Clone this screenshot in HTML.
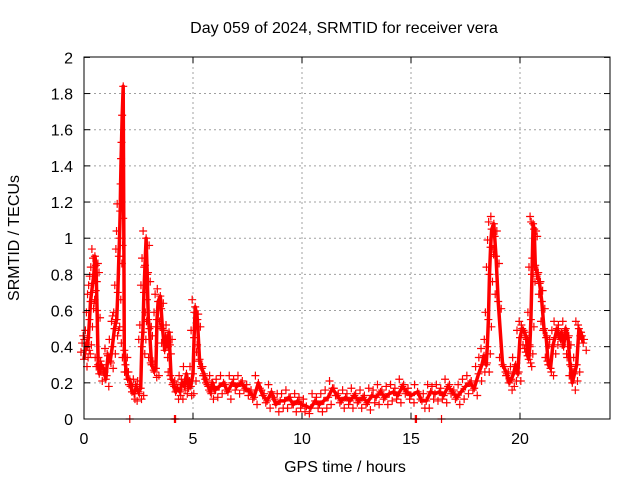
<!DOCTYPE html>
<html><head><meta charset="utf-8"><style>
body{margin:0;background:#fff;}
svg text{font-family:"Liberation Sans",sans-serif;font-size:16px;fill:#000;}
</style></head><body>
<svg id="chart" width="640" height="480">
<rect x="0" y="0" width="640" height="480" fill="#fff"/>
<g id="grid"></g>
<g id="marks"></g>
<rect x="84" y="57" width="526" height="362" fill="none" stroke="#000" stroke-width="1"/>
<g id="ticks"></g>
<text x="344" y="33" text-anchor="middle">Day 059 of 2024, SRMTID for receiver vera</text>
<text x="345" y="472" text-anchor="middle">GPS time / hours</text>
<text transform="translate(19,238) rotate(-90)" text-anchor="middle">SRMTID / TECUs</text>
</svg>
<script>
const xTicks=[0,5,10,15,20];
const yTicks=[0,0.2,0.4,0.6,0.8,1,1.2,1.4,1.6,1.8,2];
const yTickLabels=["0","0.2","0.4","0.6","0.8","1","1.2","1.4","1.6","1.8","2"];
const times=[0.0,0.05,0.1,0.15,0.2,0.25,0.3,0.35,0.4,0.45,0.5,0.55,0.6,0.65,0.7,0.8,0.9,1.0,1.1,1.2,1.3,1.4,1.45,1.5,1.55,1.6,1.63,1.66,1.68,1.7,1.72,1.75,1.8,1.85,1.9,2.0,2.1,2.2,2.3,2.4,2.5,2.6,2.65,2.7,2.75,2.8,2.85,2.9,2.95,3.0,3.1,3.2,3.3,3.35,3.4,3.5,3.6,3.7,3.8,3.85,3.9,4.0,4.1,4.2,4.3,4.4,4.5,4.6,4.7,4.8,4.9,5.0,5.05,5.1,5.2,5.3,5.4,5.5,5.6,5.7,5.8,5.9,6.0,6.2,6.4,6.6,6.8,7.0,7.2,7.4,7.6,7.8,8.0,8.2,8.4,8.6,8.8,9.0,9.2,9.4,9.6,9.8,10.0,10.2,10.4,10.6,10.8,11.0,11.2,11.4,11.6,11.8,12.0,12.2,12.4,12.6,12.8,13.0,13.2,13.4,13.6,13.8,14.0,14.2,14.4,14.6,14.8,15.0,15.3,15.5,15.7,15.9,16.1,16.3,16.5,16.7,16.9,17.1,17.3,17.5,17.7,17.9,18.1,18.25,18.35,18.45,18.5,18.55,18.6,18.65,18.7,18.8,18.9,19.0,19.2,19.4,19.5,19.6,19.7,19.8,19.9,20.0,20.1,20.2,20.3,20.35,20.4,20.45,20.5,20.55,20.6,20.65,20.7,20.8,20.9,21.0,21.1,21.2,21.3,21.4,21.5,21.6,21.7,21.8,21.9,22.0,22.1,22.2,22.3,22.4,22.5,22.6,22.7,22.8,22.9];
const values=[0.33,0.38,0.42,0.4,0.45,0.55,0.65,0.7,0.75,0.8,0.9,0.85,0.6,0.3,0.25,0.3,0.28,0.22,0.35,0.32,0.4,0.5,0.53,0.55,0.7,0.9,1.0,1.15,1.3,1.44,1.53,1.68,1.84,0.38,0.3,0.22,0.22,0.15,0.14,0.18,0.15,0.17,0.4,0.48,0.7,0.85,1.0,0.8,0.55,0.5,0.3,0.27,0.28,0.55,0.65,0.68,0.5,0.38,0.45,0.4,0.48,0.22,0.2,0.15,0.17,0.15,0.2,0.18,0.25,0.17,0.18,0.25,0.45,0.62,0.55,0.33,0.28,0.25,0.2,0.18,0.15,0.2,0.16,0.18,0.2,0.15,0.2,0.18,0.2,0.17,0.15,0.12,0.2,0.13,0.1,0.15,0.08,0.1,0.1,0.12,0.08,0.1,0.08,0.07,0.06,0.1,0.08,0.1,0.12,0.17,0.13,0.1,0.12,0.1,0.13,0.1,0.12,0.09,0.13,0.12,0.15,0.12,0.14,0.15,0.13,0.18,0.15,0.13,0.15,0.1,0.1,0.15,0.14,0.15,0.13,0.18,0.15,0.12,0.15,0.18,0.2,0.17,0.25,0.3,0.35,0.3,0.4,0.55,0.8,0.95,1.05,1.08,0.9,0.65,0.3,0.25,0.2,0.22,0.25,0.3,0.25,0.45,0.5,0.48,0.45,0.35,0.33,0.4,0.55,0.8,1.08,1.05,0.85,0.8,0.75,0.65,0.5,0.45,0.3,0.28,0.4,0.45,0.5,0.45,0.48,0.4,0.5,0.45,0.3,0.2,0.25,0.3,0.5,0.48,0.42,0.38,0.35,0.3,0.28];
const zeroTimes=[2.1,4.15,4.2,15.2,15.25,16.4];
const X0=84,PX=21.8,Y0=419,PY=180.8,SPREAD=0.04;
function xs(v){return X0+v*PX;}
function ys(v){return Y0-v*PY;}
const NS="http://www.w3.org/2000/svg";
const grid=document.getElementById('grid'),ticks=document.getElementById('ticks'),marks=document.getElementById('marks');
function mk(tag,attrs,parent){const e=document.createElementNS(NS,tag);for(const k in attrs)e.setAttribute(k,attrs[k]);parent.appendChild(e);return e;}
xTicks.forEach(t=>{
  const x=xs(t);
  if(t>0){const g=mk('line',{x1:x,x2:x,y1:57,y2:419,stroke:'#a0a0a0','stroke-dasharray':'2,3'},grid);
  
  }
  mk('line',{x1:x,x2:x,y1:419,y2:413,stroke:'#000'},ticks);
  mk('line',{x1:x,x2:x,y1:57,y2:63,stroke:'#000'},ticks);
  const tx=mk('text',{x:x,y:444,'text-anchor':'middle'},ticks);tx.textContent=t;
  
  
});
yTicks.forEach((t,i)=>{
  const y=ys(t);
  if(i>0&&i<yTicks.length-1){const g=mk('line',{x1:84,x2:610,y1:y,y2:y,stroke:'#a0a0a0','stroke-dasharray':'2,3'},grid);
  
  }
  mk('line',{x1:84,x2:90,y1:y,y2:y,stroke:'#000'},ticks);
  mk('line',{x1:604,x2:610,y1:y,y2:y,stroke:'#000'},ticks);
  const tx=mk('text',{x:73,y:y+6,'text-anchor':'end'},ticks);tx.textContent=yTickLabels[i];
  
  
});
let d='';times.forEach((t,i)=>{d+=(i?'L':'M')+xs(t).toFixed(1)+','+ys(values[i]).toFixed(1);});
const band=mk('path',{d:d,fill:'none',stroke:'#ff0000','stroke-width':3.5,'stroke-linejoin':'round'},marks);


function plus(x,y){
  const p=mk('path',{d:`M${x-4},${y}h8M${x},${y-4}v8`,stroke:'#ff0000','stroke-width':1.2},marks);
  
  
}
times.forEach((t,i)=>{
  const v=values[i];
  plus(xs(t),ys(v));
  if(v>SPREAD*1.5&&v<1.2){plus(xs(t)+3,ys(v-SPREAD));plus(xs(t)-3,ys(v+SPREAD));}
});
zeroTimes.forEach(t=>plus(xs(t),ys(0)));
</script>
</body></html>
